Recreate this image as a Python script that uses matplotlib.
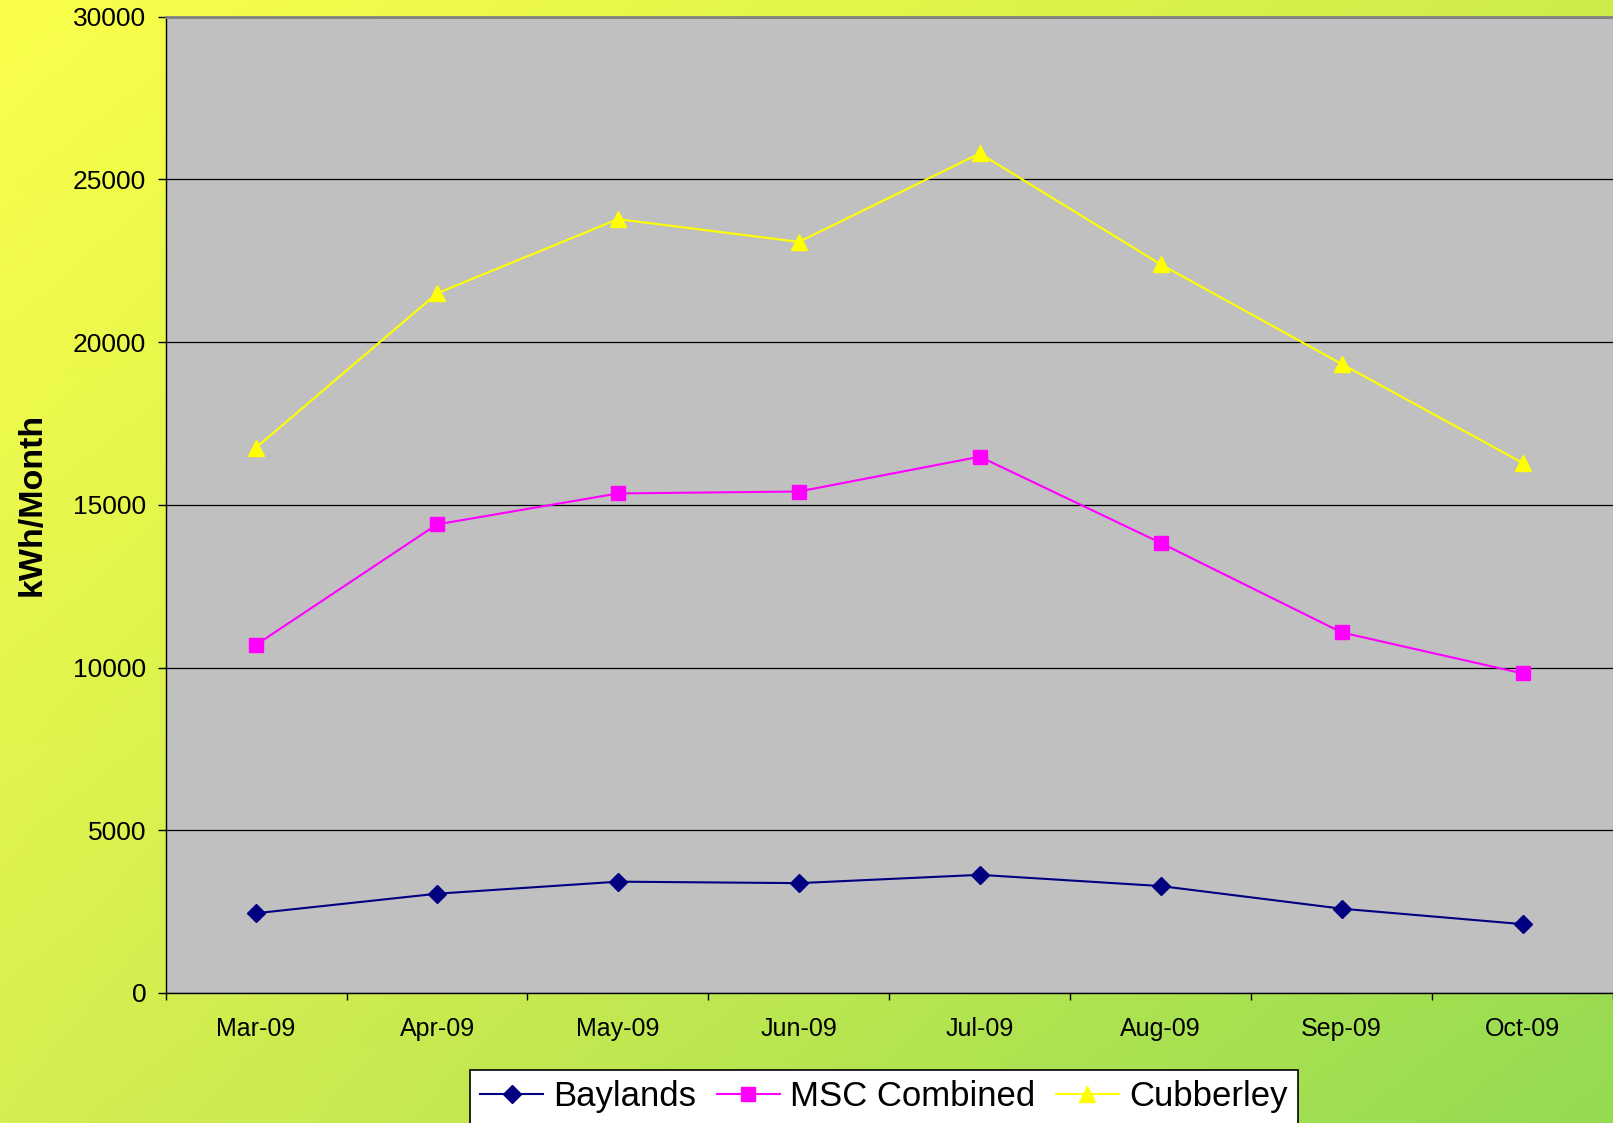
import numpy as np
import matplotlib.pyplot as plt
from matplotlib.ticker import FixedLocator

plt.rcParams['font.family'] = ['Liberation Sans', 'DejaVu Sans']

# Monthly energy use (kWh/Month)
months = ['Mar-09', 'Apr-09', 'May-09', 'Jun-09', 'Jul-09', 'Aug-09', 'Sep-09', 'Oct-09']
baylands = [2450, 3050, 3420, 3375, 3630, 3285, 2590, 2115]
msc_combined = [10700, 14400, 15350, 15410, 16480, 13830, 11080, 9820]
cubberley = [16760, 21500, 23780, 23080, 25800, 22390, 19330, 16290]

fig = plt.figure(figsize=(16.13, 11.23), dpi=100)

# yellow -> green diagonal gradient background (blend of four corner colours)
tl = np.array([250, 255, 74]) / 255.0
tr = np.array([205, 236, 74]) / 255.0
bl = np.array([214, 238, 80]) / 255.0
br = np.array([148, 219, 82]) / 255.0
u = np.linspace(0, 1, 300)[None, :, None]
v = np.linspace(0, 1, 300)[:, None, None]
grad = (1 - v) * ((1 - u) * tl + u * tr) + v * ((1 - u) * bl + u * br)
bg = fig.add_axes([0, 0, 1, 1], zorder=-10)
bg.imshow(grad, extent=[0, 1, 0, 1], interpolation='bilinear', aspect='auto')
bg.axis('off')

ax = fig.add_axes([0.1027, 0.1158, 0.8973, 0.8693])
ax.set_facecolor('#C0C0C0')

x = np.arange(len(months))
ax.plot(x, baylands, color='#000080', marker='D', markersize=9.5, lw=1.5, label='Baylands')
ax.plot(x, msc_combined, color='#FF00FF', marker='s', markersize=10, lw=1.5, label='MSC Combined')
ax.plot(x, cubberley, color='#FFFF00', marker='^', markersize=11, lw=1.5, label='Cubberley')

ax.set_xlim(-0.5, len(months) - 0.5)
ax.set_ylim(0, 30000)
ax.set_yticks(np.arange(0, 30001, 5000))
ax.yaxis.grid(True, color='black', lw=0.9)
ax.set_axisbelow(True)

ax.set_xticks(x)
ax.set_xticklabels(months)
ax.xaxis.set_minor_locator(FixedLocator(np.arange(-0.5, len(months), 1.0)))
ax.tick_params(axis='x', which='major', length=0, pad=17, labelsize=18)
ax.tick_params(axis='x', which='minor', length=5, width=1, direction='out')
ax.tick_params(axis='y', length=6, width=1, pad=8, labelsize=19)

ax.spines['right'].set_visible(False)
ax.spines['top'].set_color('#808080')
ax.spines['top'].set_linewidth(2)
ax.spines['left'].set_linewidth(1)
ax.spines['bottom'].set_linewidth(1)

fig.text(32 / 1613, 0.551, 'kWh/Month', rotation=90, ha='center', va='center',
         fontsize=24.5, fontweight='bold')

leg = fig.legend(loc='upper center', bbox_to_anchor=(0.548, 1 - 1070 / 1123), ncol=3,
                 fontsize=25, frameon=True, fancybox=False, edgecolor='black',
                 facecolor='white', framealpha=1, handlelength=1.8, handletextpad=0.3,
                 columnspacing=0.6, borderpad=0.3, borderaxespad=0)
leg.get_frame().set_linewidth(1.2)

fig.savefig('out.png', dpi=100)
